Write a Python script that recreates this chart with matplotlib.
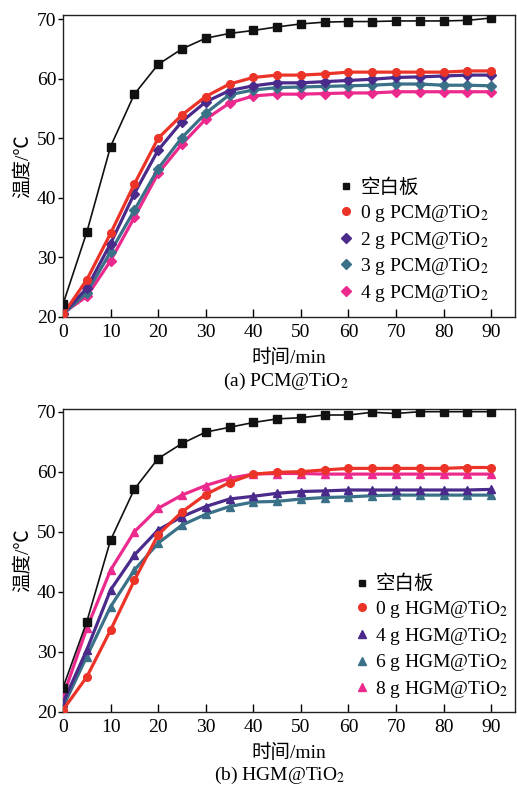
import matplotlib
matplotlib.use("Agg")
import matplotlib.pyplot as plt
from matplotlib.lines import Line2D

plt.rcParams['font.family'] = ['Liberation Serif', 'Noto Sans CJK SC']
plt.rcParams['mathtext.fontset'] = 'stix'

# ---------------- data ----------------
t = [0, 5, 10, 15, 20, 25, 30, 35, 40, 45, 50, 55, 60, 65, 70, 75, 80, 85, 90]

blank_a = [22.1, 34.2, 48.6, 57.4, 62.4, 65.0, 66.8, 67.6, 68.1, 68.7, 69.2, 69.5,
           69.6, 69.6, 69.7, 69.7, 69.7, 69.8, 70.2]
pcm0 = [20.4, 26.2, 34.0, 42.3, 50.0, 53.9, 57.0, 59.1, 60.2, 60.6, 60.6, 60.8,
        61.1, 61.1, 61.1, 61.1, 61.1, 61.3, 61.3]
pcm2 = [20.5, 24.8, 32.3, 40.7, 48.0, 52.8, 56.1, 58.0, 58.8, 59.3, 59.3, 59.5,
        59.7, 59.9, 60.2, 60.3, 60.45, 60.6, 60.6]
pcm3 = [20.4, 24.0, 30.9, 37.9, 44.9, 50.1, 54.2, 57.3, 58.1, 58.5, 58.6, 58.7,
        58.8, 58.9, 59.1, 59.1, 58.9, 58.9, 58.8]
pcm4 = [20.6, 23.4, 29.4, 36.7, 44.1, 49.0, 53.2, 55.9, 57.1, 57.4, 57.4, 57.5,
        57.6, 57.6, 57.8, 57.8, 57.8, 57.8, 57.8]

blank_b = [24.0, 35.0, 48.6, 57.1, 62.2, 64.7, 66.6, 67.4, 68.2, 68.8, 69.0, 69.45,
           69.45, 69.9, 69.7, 70.0, 70.0, 70.0, 70.0]
hgm0 = [20.3, 25.8, 33.6, 41.9, 49.5, 53.3, 56.2, 58.2, 59.6, 59.9, 60.0, 60.3,
        60.55, 60.55, 60.55, 60.55, 60.55, 60.7, 60.7]
hgm4 = [21.5, 30.3, 40.3, 46.1, 50.3, 52.5, 54.2, 55.45, 55.9, 56.4, 56.7, 56.8,
        56.95, 56.95, 56.95, 56.95, 56.95, 56.95, 57.05]
hgm6 = [20.8, 29.2, 37.5, 43.6, 48.1, 51.1, 52.9, 54.2, 54.95, 55.05, 55.45, 55.7,
        55.8, 56.0, 56.1, 56.1, 56.1, 56.1, 56.1]
hgm8 = [22.5, 33.9, 43.6, 50.0, 53.9, 56.1, 57.7, 58.9, 59.6, 59.7, 59.7, 59.6,
        59.6, 59.6, 59.6, 59.6, 59.6, 59.6, 59.6]

labels_a = ['空白板', '0 g PCM@TiO$_2$', '2 g PCM@TiO$_2$', '3 g PCM@TiO$_2$', '4 g PCM@TiO$_2$']
labels_b = ['空白板', '0 g HGM@TiO$_2$', '4 g HGM@TiO$_2$', '6 g HGM@TiO$_2$', '8 g HGM@TiO$_2$']
xticks = [0, 10, 20, 30, 40, 50, 60, 70, 80, 90]
yticks = [20, 30, 40, 50, 60, 70]
captions = ['(a) PCM@TiO$_2$', '(b) HGM@TiO$_2$']

# ---------------- style ----------------
BLACK = '#111111'
RED = '#ec3327'
PURPLE = '#4a2a8a'
TEAL = '#3a7088'
PINK = '#ec2a8e'

W, H = 517, 787
fig = plt.figure(figsize=(W / 100, H / 100), dpi=100)

def axes_px(left, top, right, bottom):
    return fig.add_axes([left / W, 1 - bottom / H, (right - left) / W, (bottom - top) / H])

ax_a = axes_px(63, 14.7, 515, 316.7)
ax_b = axes_px(63, 409, 515, 711.7)

FS = 14

def style_axes(ax, ytop):
    ax.set_xlim(0, 95)
    ax.set_ylim(20, ytop)
    ax.set_xticks(xticks)
    ax.set_yticks(yticks)
    ax.tick_params(axis='x', direction='in', length=6, width=1.0, labelsize=FS, pad=5,
                   top=False)
    ax.tick_params(axis='y', direction='out', length=3.6, width=1.0, labelsize=FS, pad=1,
                   right=False)
    for s in ax.spines.values():
        s.set_linewidth(1.0)
        s.set_color('#222222')
    ax.set_xlabel('时间/min', fontsize=FS, labelpad=6)
    ax.set_ylabel('温度/℃', fontsize=FS, labelpad=4)

def draw(ax, series, colors, markers, labels, leg_anchor):
    handles = []
    for i, (y, c, m, lab) in enumerate(zip(series, colors, markers, labels)):
        if i == 0:
            ax.plot(t, y, color=c, lw=1.2, marker=m, ms=6, zorder=5)
            handles.append(Line2D([], [], ls='none', marker=m, color=c, ms=5))
        else:
            ax.plot(t, y, color=c, lw=2.3, marker=m, ms=5.5, zorder=4 - i * 0.1)
            handles.append(Line2D([], [], ls='none', marker=m, color=c, ms=5.5))
    ax.legend(handles, labels, loc='upper left', bbox_to_anchor=leg_anchor,
              frameon=False, fontsize=FS, handlelength=0.8, handletextpad=0.3,
              labelspacing=0.29, borderpad=0, borderaxespad=0)

draw(ax_a, [blank_a, pcm0, pcm2, pcm3, pcm4], [BLACK, RED, PURPLE, TEAL, PINK],
     ['s', 'o', 'D', 'D', 'D'], labels_a, (0.610, 0.457))
draw(ax_b, [blank_b, hgm0, hgm4, hgm6, hgm8], [BLACK, RED, PURPLE, TEAL, PINK],
     ['s', 'o', '^', '^', '^'], labels_b, (0.644, 0.452))

style_axes(ax_a, 70.75)
style_axes(ax_b, 70.45)

fig.text(286 / W, 1 - 381 / H, captions[0], fontsize=FS, ha='center', va='center')
fig.text(280 / W, 1 - 775 / H, captions[1], fontsize=FS, ha='center', va='center')

fig.savefig('out.png', dpi=100)
